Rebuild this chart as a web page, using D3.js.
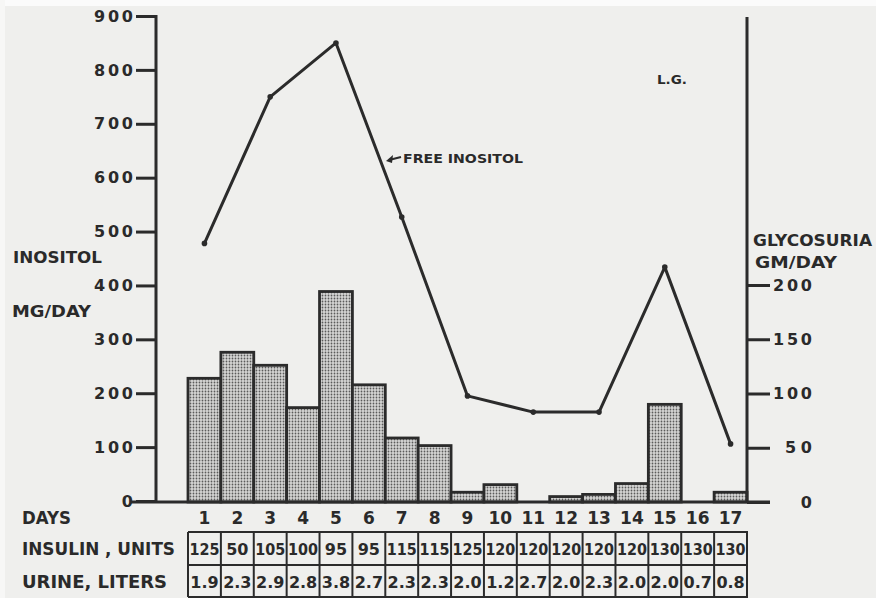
<!DOCTYPE html>
<html>
<head>
<meta charset="utf-8">
<script src="https://cdn.jsdelivr.net/npm/d3@7"></script>
<style>
  body { margin: 0; background: #efefed; }
  svg { display: block; }
  text { font-family: "DejaVu Sans", sans-serif; font-weight: bold; fill: #2a2a2a; }
</style>
</head>
<body>
<div id="chart"></div>
<script>
// data
var days = d3.range(1, 18);
var glycosuria = [114, 138, 126, 87, 194, 108, 59, 52, 9, 16, 0, 5, 7, 17, 90, 0, 9];   // gm/day, bars
var inositolDays = [1, 3, 5, 7, 9, 11, 13, 15, 17];
var inositol = [478, 750, 850, 527, 195, 165, 165, 434, 106];                        // mg/day, line
var insulin = [125, 50, 105, 100, 95, 95, 115, 115, 125, 120, 120, 120, 120, 120, 130, 130, 130];
var urine = [1.9, 2.3, 2.9, 2.8, 3.8, 2.7, 2.3, 2.3, 2.0, 1.2, 2.7, 2.0, 2.3, 2.0, 2.0, 0.7, 0.8];
var leftTicks = d3.range(0, 901, 100);
var rightTicks = [0, 50, 100, 150, 200];

const W = 876, H = 598;
const ink = "#2b2b2b";

var svg = d3.select("#chart").append("svg")
    .attr("width", W).attr("height", H);

// paper
svg.append("rect").attr("width", W).attr("height", H).attr("fill", "#efefed");
svg.append("rect").attr("width", W).attr("height", 6).attr("fill", "#fbfbfb");
svg.append("rect").attr("width", 5).attr("height", H).attr("fill", "#f7f7f6");

// stipple pattern for the bars
var defs = svg.append("defs");
var pat = defs.append("pattern").attr("id", "dots")
    .attr("width", 3).attr("height", 3).attr("patternUnits", "userSpaceOnUse");
pat.append("rect").attr("width", 3).attr("height", 3).attr("fill", "#d6d6d4");
pat.append("circle").attr("cx", 1.5).attr("cy", 1.5).attr("r", 0.9).attr("fill", "#5a5a5a");

// scales
var x = d3.scaleBand().domain(days).range([188, 747]).padding(0);
var yL = d3.scaleLinear().domain([0, 900]).range([501, 16]);
var yR = d3.scaleLinear().domain([0, 200]).range([502, 285]);
var cx = d => x(d) + x.bandwidth() / 2;

// bars (glycosuria)
svg.selectAll("rect.bar")
    .data(days.filter((d, i) => glycosuria[i] > 0))
    .enter().append("rect")
    .attr("class", "bar")
    .attr("x", d => x(d))
    .attr("y", d => yR(glycosuria[d - 1]))
    .attr("width", x.bandwidth())
    .attr("height", d => yR(0) - yR(glycosuria[d - 1]))
    .attr("fill", "url(#dots)")
    .attr("stroke", ink).attr("stroke-width", 2.8);

// free inositol line
var pts = inositolDays.map((d, i) => [cx(d), yL(inositol[i])]);
svg.append("path")
    .attr("d", d3.line()(pts))
    .attr("fill", "none").attr("stroke", ink)
    .attr("stroke-width", 3).attr("stroke-linejoin", "round");
svg.selectAll("circle.pt").data(pts).enter().append("circle")
    .attr("class", "pt")
    .attr("cx", d => d[0]).attr("cy", d => d[1]).attr("r", 2.8).attr("fill", ink);

// axes
function styleAxis(g) {
    g.select(".domain").remove();
    g.attr("color", ink).attr("font-size", null).attr("font-family", null);
    g.selectAll(".tick line").attr("stroke-width", 3);
    g.selectAll(".tick text")
        .style("font-size", "16px")
        .attr("fill", "#2a2a2a")
        .each(function () {
            var n = this.textContent.length;
            if (n > 1) d3.select(this).attr("textLength", n == 3 ? 39 : 27).attr("lengthAdjust", "spacing");
        });
}
var axL = svg.append("g").attr("transform", "translate(156,0)")
    .call(d3.axisLeft(yL).tickValues(leftTicks).tickSize(20).tickPadding(3));
styleAxis(axL);
var axR = svg.append("g").attr("transform", "translate(747,0)")
    .call(d3.axisRight(yR).tickValues(rightTicks).tickSize(23).tickPadding(3));
styleAxis(axR);
// right labels are set flush to a common right edge
axR.selectAll(".tick text").attr("text-anchor", "end").attr("x", 65);

svg.append("line").attr("x1", 156).attr("x2", 156).attr("y1", 15).attr("y2", 503)
    .attr("stroke", ink).attr("stroke-width", 3);
svg.append("line").attr("x1", 747).attr("x2", 747).attr("y1", 17).attr("y2", 503)
    .attr("stroke", ink).attr("stroke-width", 3);
svg.append("line").attr("x1", 130).attr("x2", 770).attr("y1", 502).attr("y2", 502)
    .attr("stroke", ink).attr("stroke-width", 3);

// axis titles
function label(txt, x0, y0, size, len) {
    return svg.append("text").attr("x", x0).attr("y", y0).attr("dy", "0.36em")
        .style("font-size", size + "px")
        .attr("textLength", len).attr("lengthAdjust", "spacingAndGlyphs")
        .text(txt);
}
label("INOSITOL", 13, 258, 15, 89);
label("MG/DAY", 12, 312, 15, 79);
label("GLYCOSURIA", 753, 240, 15.5, 119);
label("GM/DAY", 755, 262, 15.5, 82);
label("L.G.", 657, 80, 12, 30);
label("FREE INOSITOL", 403, 158, 12.5, 120);

// arrow to the line
svg.append("path").attr("d", "M401,157 L389,160")
    .attr("stroke", ink).attr("stroke-width", 2).attr("fill", "none");
svg.append("path").attr("d", "M386,161 L393,155 L392,163 Z").attr("fill", ink);

// table
var rowTop = 532, rowMid = 565, rowBot = 597;
label("DAYS", 22, 518, 17, 49);
label("INSULIN , UNITS", 22, 549, 17, 153);
label("URINE, LITERS", 22, 582, 17, 145);

svg.selectAll("text.day").data(days).enter().append("text")
    .attr("class", "day")
    .attr("x", d => cx(d)).attr("y", 518).attr("dy", "0.36em")
    .attr("text-anchor", "middle").style("font-size", "17px")
    .text(d => d);

var tbl = svg.append("g").attr("stroke", ink).attr("stroke-width", 2);
[rowTop, rowMid, rowBot].forEach(function (yy) {
    tbl.append("line").attr("x1", 188).attr("x2", 748).attr("y1", yy).attr("y2", yy);
});
days.concat([18]).forEach(function (d) {
    var xx = d == 18 ? 747 : x(d);
    tbl.append("line").attr("x1", xx).attr("x2", xx).attr("y1", rowTop).attr("y2", rowBot);
});

function cellRow(vals, yc, fmt) {
    svg.selectAll(null).data(vals).enter().append("text")
        .attr("x", (v, i) => cx(days[i])).attr("y", yc).attr("dy", "0.36em")
        .attr("text-anchor", "middle").style("font-size", "16px")
        .text(v => fmt(v))
        .each(function () {
            if (this.getComputedTextLength() > 30)
                d3.select(this).attr("textLength", 30).attr("lengthAdjust", "spacingAndGlyphs");
        });
}
cellRow(insulin, 549, d => d);
cellRow(urine, 582, d3.format(".1f"));
</script>
</body>
</html>
